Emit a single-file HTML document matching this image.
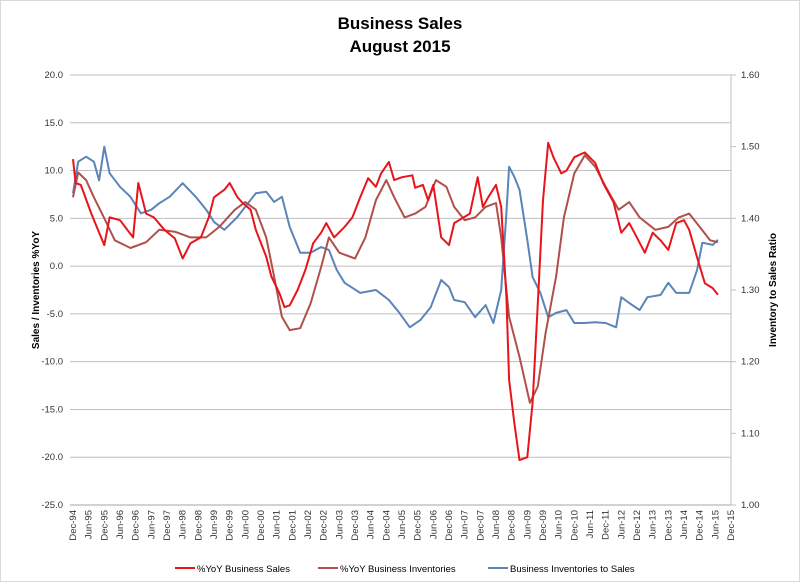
<!DOCTYPE html>
<html><head><meta charset="utf-8"><style>
body{margin:0;background:#fff;}
svg text{font-family:"Liberation Sans",Arial,sans-serif;}
</style></head><body>
<svg id="chart" width="800" height="582" xmlns="http://www.w3.org/2000/svg">
<rect x="0.5" y="0.5" width="799" height="581" fill="#fff" stroke="#d9d9d9"/>
<text x="400" y="29" text-anchor="middle" font-size="17" font-weight="bold">Business Sales</text>
<text x="400" y="52" text-anchor="middle" font-size="17" font-weight="bold">August 2015</text>
<g id="grid"></g><g id="series"></g><g id="axes"></g>
<text transform="translate(39,290) rotate(-90)" text-anchor="middle" font-size="10" font-weight="bold">Sales / Inventories %YoY</text>
<text transform="translate(776,290) rotate(-90)" text-anchor="middle" font-size="10" font-weight="bold">Inventory to Sales Ratio</text>
<g>
<line x1="175" y1="568" x2="195" y2="568" stroke="#e8141b" stroke-width="2"/>
<text x="197" y="572" font-size="9.5">%YoY Business Sales</text>
<line x1="318" y1="568" x2="338" y2="568" stroke="#b0504a" stroke-width="2"/>
<text x="340" y="572" font-size="9.5">%YoY Business Inventories</text>
<line x1="488" y1="568" x2="508" y2="568" stroke="#5b84b8" stroke-width="2"/>
<text x="510" y="572" font-size="9.5">Business Inventories to Sales</text>
</g>
</svg>
<script>
const leftTicks=[20,15,10,5,0,-5,-10,-15,-20,-25];
const rightTicks=[1.60,1.50,1.40,1.30,1.20,1.10,1.00];
const xLabels=["Dec-94","Jun-95","Dec-95","Jun-96","Dec-96","Jun-97","Dec-97","Jun-98","Dec-98","Jun-99","Dec-99","Jun-00","Dec-00","Jun-01","Dec-01","Jun-02","Dec-02","Jun-03","Dec-03","Jun-04","Dec-04","Jun-05","Dec-05","Jun-06","Dec-06","Jun-07","Dec-07","Jun-08","Dec-08","Jun-09","Dec-09","Jun-10","Dec-10","Jun-11","Dec-11","Jun-12","Dec-12","Jun-13","Dec-13","Jun-14","Dec-14","Jun-15","Dec-15"];
const salesMonths=[0,1,3,7,12,14,18,23,25,28,31,35,39,42,45,49,52,54,58,60,63,65,68,70,74,76,79,81,83,86,89,92,95,97,100,104,107,110,113,116,118,121,123,126,130,131,134,136,138,141,144,146,149,152,155,157,159,162,164,166,167,169,171,174,176,178,180,182,184,187,189,192,196,200,203,207,210,213,215,219,222,225,228,231,234,236,239,242,245,247];
const salesYoY=[11.2,8.7,8.5,5.5,2.2,5.1,4.8,3,8.7,5.5,5.1,3.8,2.9,0.8,2.4,3,5.1,7.2,8,8.7,7.2,6.6,5.9,3.8,1,-1.1,-2.8,-4.3,-4.1,-2.5,-0.4,2.4,3.5,4.5,3,4.1,5.1,7.2,9.2,8.3,9.7,10.9,9,9.3,9.5,8.2,8.5,6.9,8.5,3,2.2,4.5,5,5.5,9.3,6.2,7.2,8.5,6.2,-3.2,-11.9,-16.4,-20.3,-20,-14.3,-3.9,6.9,12.9,11.4,9.7,10,11.4,11.9,10.8,8.7,6.7,3.5,4.5,3.5,1.4,3.5,2.7,1.7,4.5,4.8,3.8,0.9,-1.8,-2.3,-3];
const invMonths=[0,2,5,8,12,16,22,28,33,39,45,51,56,62,66,70,74,77,80,83,87,91,95,98,102,108,112,116,120,123,127,131,135,139,143,146,150,154,158,162,164,167,171,175,178,181,185,188,192,196,200,204,209,213,217,223,228,232,236,240,244,247];
const invYoY=[7.2,9.8,9,7.2,5,2.7,1.9,2.5,3.8,3.6,3,3,4.1,5.9,6.7,5.9,3,-1.1,-5.3,-6.7,-6.5,-3.9,-0.1,3,1.4,0.8,3,6.9,9,7.2,5.1,5.5,6.2,9,8.3,6.2,4.8,5.1,6.2,6.6,3,-5.3,-9.5,-14.3,-12.6,-7,-1.1,5.1,9.7,11.6,10.4,8.3,5.9,6.7,5.1,3.8,4.1,5.1,5.5,4.1,2.7,2.5];
const ratioMonths=[0,2,5,8,10,12,14,18,22,26,30,33,37,42,47,51,54,58,63,67,70,74,77,80,83,87,91,95,98,101,104,110,116,121,125,129,133,137,141,144,146,150,154,158,161,164,166,167,169,171,174,176,179,182,185,189,192,196,200,204,208,210,213,217,220,225,228,231,236,239,241,245,247];
const ratio=[1.435,1.479,1.486,1.479,1.453,1.500,1.463,1.444,1.430,1.407,1.412,1.421,1.430,1.449,1.430,1.412,1.395,1.384,1.402,1.421,1.435,1.437,1.423,1.430,1.388,1.352,1.352,1.360,1.356,1.328,1.310,1.296,1.300,1.286,1.268,1.248,1.258,1.276,1.314,1.304,1.286,1.283,1.262,1.279,1.254,1.300,1.407,1.472,1.458,1.440,1.370,1.318,1.296,1.262,1.268,1.272,1.254,1.254,1.255,1.254,1.248,1.290,1.282,1.272,1.290,1.293,1.310,1.296,1.296,1.328,1.366,1.363,1.370];

const NS='http://www.w3.org/2000/svg';
const X0=73,X1=731,Y0=75,Y1=505,M=252;
const xs=m=>X0+(X1-X0)*m/M;
const yL=v=>Y0+(20-v)/45*(Y1-Y0);
const yR=v=>Y0+(1.6-v)/0.6*(Y1-Y0);
function mk(tag,attrs,parent){const e=document.createElementNS(NS,tag);for(const k in attrs)e.setAttribute(k,attrs[k]);parent.appendChild(e);return e;}
const grid=document.getElementById('grid'),axes=document.getElementById('axes'),ser=document.getElementById('series');
leftTicks.forEach(v=>{
  const y=yL(v);
  const g=mk('line',{x1:70,x2:X1,y1:y,y2:y,stroke:v===-25?'#a6a6a6':'#bfbfbf','stroke-width':1},grid);
  
  
  const t=mk('text',{x:63,y:y+3,'text-anchor':'end','font-size':9.5,fill:'#333'},axes);
  t.textContent=v.toFixed(1);
  
  
});
const ra=mk('line',{x1:X1,x2:X1,y1:Y0,y2:Y1,stroke:'#bfbfbf'},axes);


rightTicks.forEach(v=>{
  const y=yR(v);
  mk('line',{x1:X1,x2:X1+5,y1:y,y2:y,stroke:'#bfbfbf'},axes);
  const t=mk('text',{x:741,y:y+3,'font-size':9.5,fill:'#333'},axes);
  t.textContent=v.toFixed(2);
  
  
});
xLabels.forEach((s,i)=>{
  const x=xs(i*6);
  const t=mk('text',{transform:`translate(${x+3},510) rotate(-90)`,'text-anchor':'end','font-size':9.5,fill:'#333'},axes);
  t.textContent=s;
  
  
});
function line(ms,vals,yf,color,name){
  const n=Math.min(ms.length,vals.length);
  let d='';
  for(let i=0;i<n;i++)d+=(i?'L':'M')+xs(ms[i]).toFixed(1)+','+yf(vals[i]).toFixed(1);
  const p=mk('path',{d:d,fill:'none',stroke:color,'stroke-width':2,'stroke-linejoin':'round'},ser);
  
  
}
line(ratioMonths,ratio,yR,'#5b84b8','ratio-line');
line(invMonths,invYoY,yL,'#b0504a','inventories-line');
line(salesMonths,salesYoY,yL,'#e8141b','sales-line');
</script>
</body></html>
